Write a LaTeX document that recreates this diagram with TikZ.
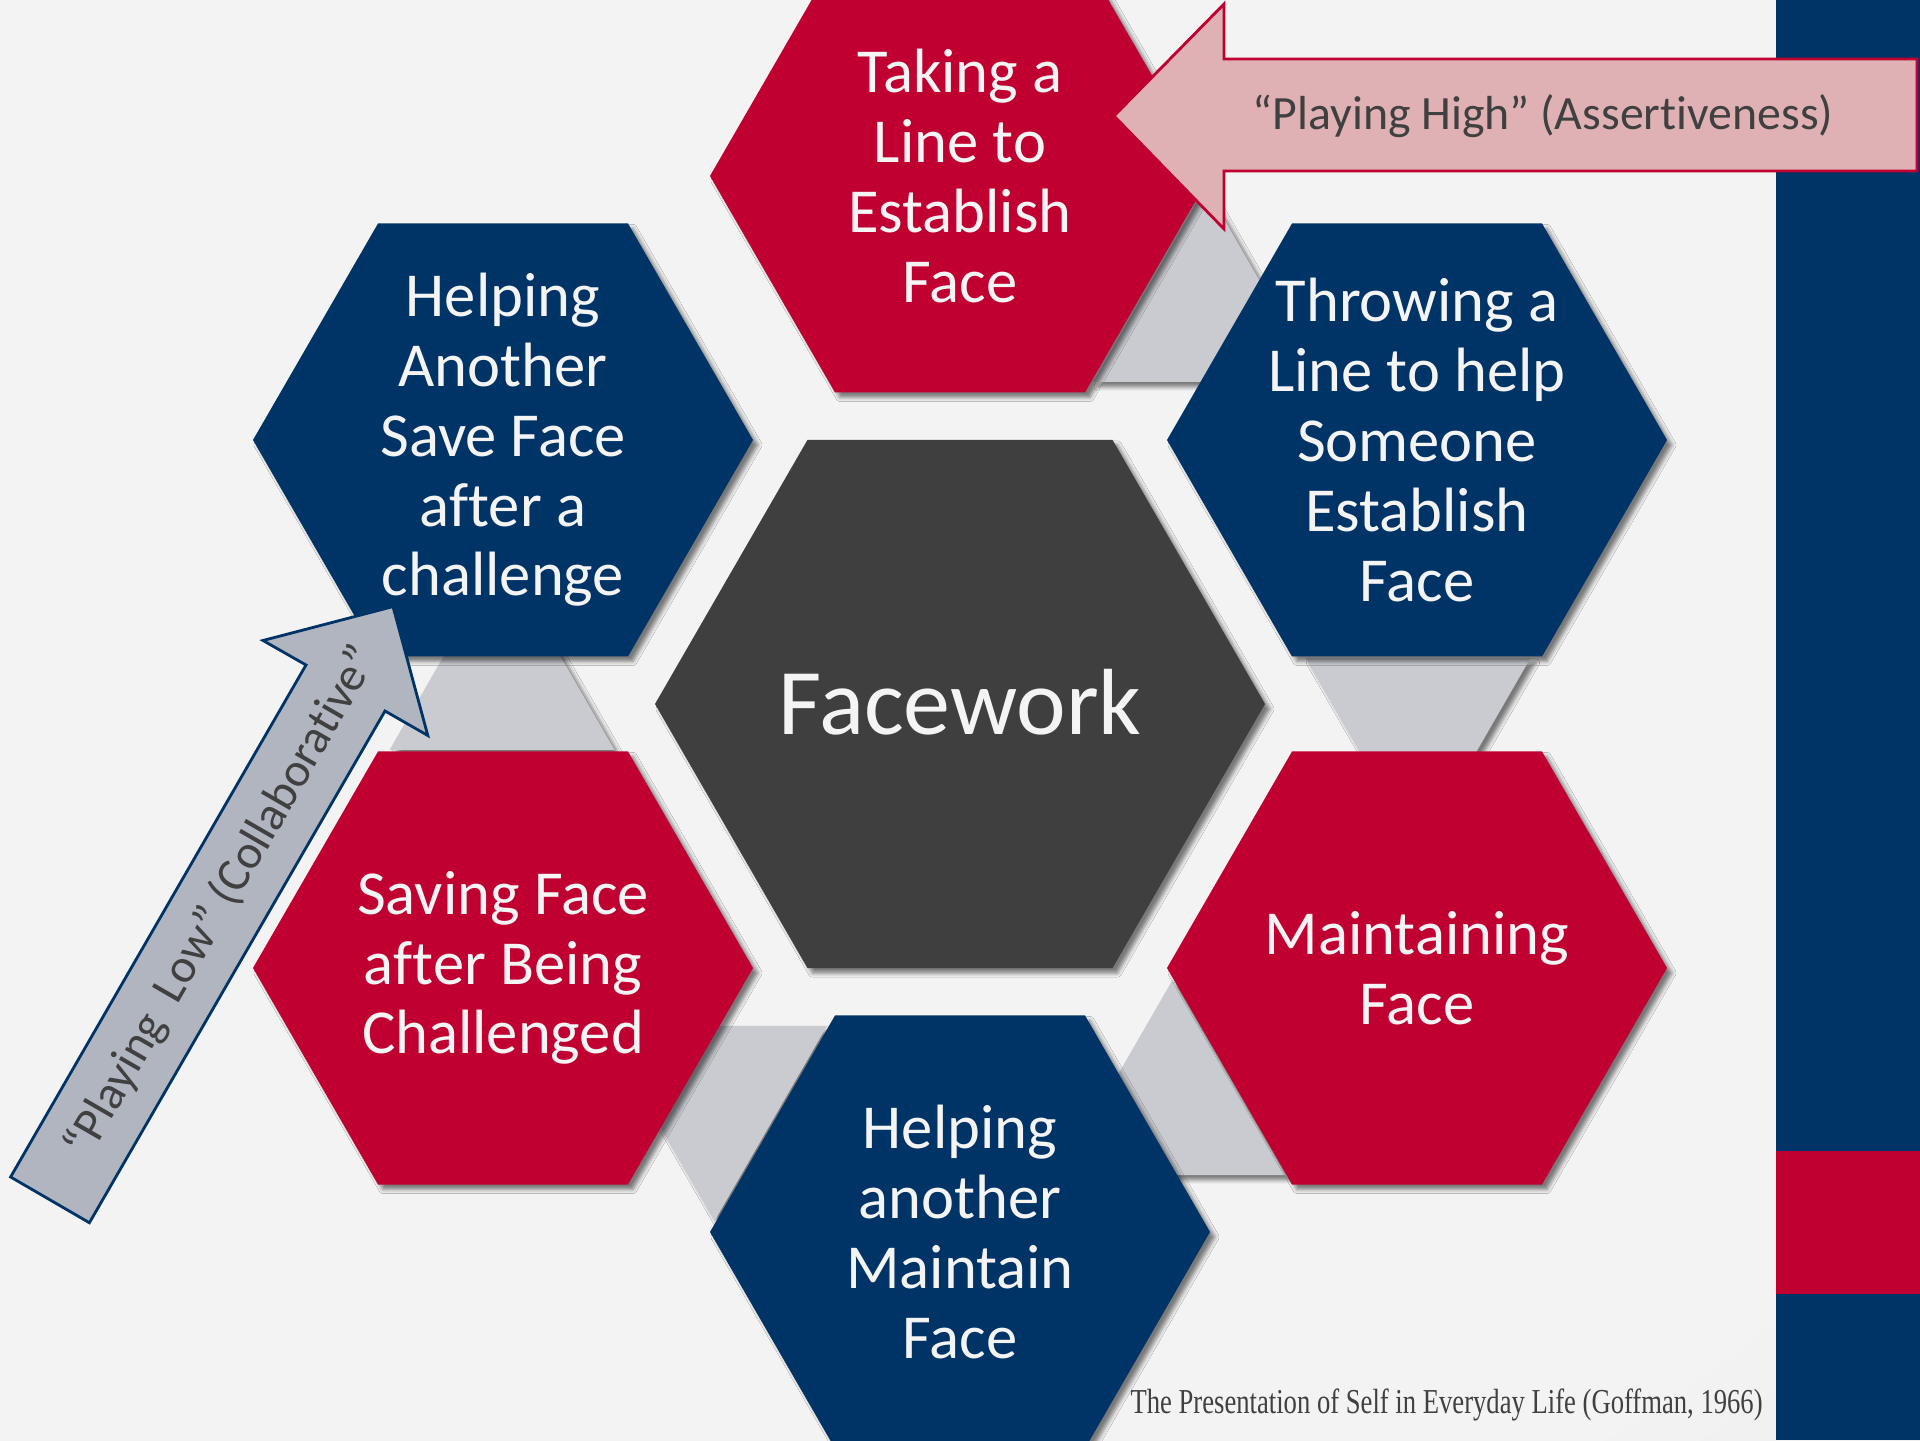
\documentclass[tikz,border=0pt]{standalone}
\usepackage{fontspec}
\usepackage{graphicx}
\setmainfont{Carlito}[Ligatures={NoCommon,NoRare}]
\newfontfamily\citefont{Liberation Serif}
\usetikzlibrary{shadows.blur}
\definecolor{hexred}{HTML}{C00030}
\definecolor{hexnavy}{HTML}{003366}
\definecolor{hexdark}{HTML}{3F3F3F}
\definecolor{trigray}{HTML}{C9CBD1}
\definecolor{pinkfill}{HTML}{E0B1B4}
\definecolor{lowfill}{HTML}{B1B5BF}
\definecolor{bgin}{HTML}{F3F3F3}
\definecolor{bgout}{HTML}{D4D4D4}
\colorlet{bgmid}{bgout!60!bgin}
\definecolor{txtlight}{HTML}{F4F4F4}
\definecolor{txtdark}{HTML}{404040}
\pgfdeclareradialshading{bgshade}{\pgfpoint{-8bp}{5bp}}{color(0bp)=(bgin); color(35bp)=(bgin); color(62bp)=(bgmid); color(80bp)=(bgout); color(100bp)=(bgout)}
\begin{document}
\begin{tikzpicture}[x=0.5pt,y=0.5pt,
  hexshadow/.style={blur shadow={shadow xshift=2.5pt,shadow yshift=-2.5pt,shadow blur radius=2pt,shadow opacity=50}},
  hexlabel/.style={text=txtlight,align=center,font=\fontsize{31.3}{34.9}\selectfont,inner sep=0pt},
  arrowlabel/.style={text=txtdark,font=\fontsize{23.9}{28}\selectfont,inner sep=0pt},
  blockarrow/.style={line width=1.4pt,line join=miter}]
\useasboundingbox (0,0) rectangle (1920,1440);
\clip (0,0) rectangle (1920,1440);
\shade[shading=bgshade] (0,0) rectangle (1920,1440);
% right bar
\fill[hexnavy] (1776,0) rectangle (1920,1440);
\fill[hexred] (1776,146) rectangle (1920,289);
% gray transition triangles
\fill[trigray,hexshadow] (1093,1058) -- (1318,1058) -- (1205.5,1253) -- cycle;
\fill[trigray,hexshadow] (1305.5,782) -- (1530.5,782) -- (1418,587) -- cycle;
\fill[trigray,hexshadow] (1060,265) -- (1285,265) -- (1172.5,460) -- cycle;
\fill[trigray,hexshadow] (602,414) -- (827,414) -- (714.5,219) -- cycle;
\fill[trigray,hexshadow] (389.5,690) -- (614.5,690) -- (502,885) -- cycle;
% outer hexagons
\foreach \cx/\cy/\col in {960/1264/hexred,1417/1000/hexnavy,1417/472/hexred,960/208/hexnavy,503/472/hexred,503/1000/hexnavy}{
  \fill[\col,hexshadow,shift={(\cx,\cy)}] (0:250) -- (60:250) -- (120:250) -- (180:250) -- (240:250) -- (300:250) -- cycle;
}
% centre hexagon
\fill[hexdark,hexshadow,shift={(960,736)}] (0:305) -- (60:305) -- (120:305) -- (180:305) -- (240:305) -- (300:305) -- cycle;
% labels
\node[hexlabel] (n1) at (960,1264) {Taking a\\Line to\\Establish\\Face};
\node[hexlabel] (n2) at (1417,1000) {Throwing a\\Line to help\\Someone\\Establish\\Face};
\node[hexlabel] (n3) at (1417,472) {Maintaining\\Face};
\node[hexlabel] (n4) at (960,208) {Helping\\another\\Maintain\\Face};
\node[hexlabel] (n5) at (503,472) {Saving Face\\after Being\\Challenged};
\node[hexlabel] (n6) at (503,1000) {Helping\\Another\\Save Face\\after a\\challenge};
\node[text=txtlight,font=\fontsize{47}{56}\selectfont,inner sep=0pt] (hub) at (960,738) {Facework};
% playing high arrow
\draw[blockarrow,draw=hexred,fill=pinkfill] (1114,1324) -- (1224,1436) -- (1224,1381) -- (1917,1381) -- (1917,1269) -- (1224,1269) -- (1224,1211) -- cycle;
\node[arrowlabel] (high) at (1543,1324) {“Playing High” (Assertiveness)};
% playing low arrow
\draw[blockarrow,draw=hexnavy,fill=lowfill] (10.6,263) -- (306,775) -- (263,799.5) -- (393,833.4) -- (427.8,704.5) -- (385,729) -- (89.4,217.25) -- cycle;
\node[arrowlabel,rotate=60] (low) at (222,538) {“Playing\ \ Low” (Collaborative”};
% citation
\node[anchor=east,text=txtdark,inner sep=0pt] (cite) at (1763,35) {\resizebox{316pt}{\height}{\citefont\fontsize{17.5}{20}\selectfont The Presentation of Self in Everyday Life (Goffman, 1966)}};
\end{tikzpicture}
\end{document}
